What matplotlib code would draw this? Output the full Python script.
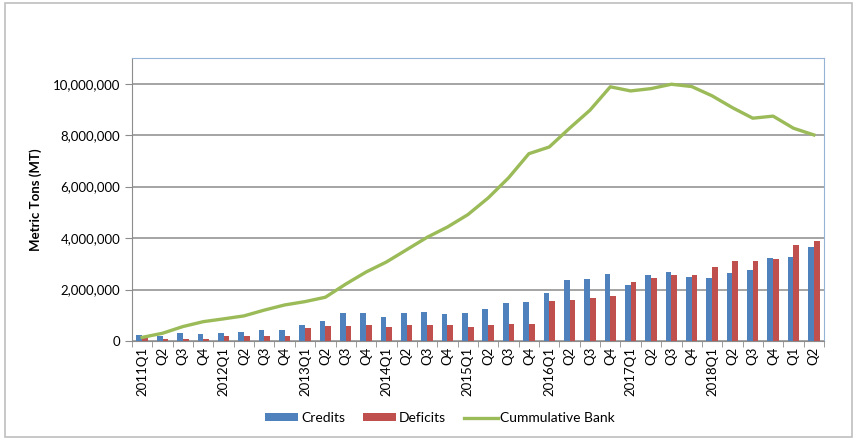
import matplotlib.pyplot as plt
from matplotlib.patches import Rectangle
from matplotlib.ticker import FuncFormatter
import numpy as np

plt.rcParams['font.family'] = ['Lato', 'DejaVu Sans']

# quarter labels, 2011Q1 .. 2019Q2 (2019 year prefix is cut off in the original)
quarters = ["2011Q1", "Q2", "Q3", "Q4",
            "2012Q1", "Q2", "Q3", "Q4",
            "2013Q1", "Q2", "Q3", "Q4",
            "2014Q1", "Q2", "Q3", "Q4",
            "2015Q1", "Q2", "Q3", "Q4",
            "2016Q1", "Q2", "Q3", "Q4",
            "2017Q1", "Q2", "Q3", "Q4",
            "2018Q1", "Q2", "Q3", "Q4",
            "Q1", "Q2"]

credits = [240000, 200000, 325000, 290000, 325000, 350000, 430000, 440000,
           640000, 790000, 1090000, 1090000, 920000, 1070000, 1120000, 1040000,
           1070000, 1250000, 1470000, 1530000, 1850000, 2380000, 2400000, 2600000,
           2160000, 2550000, 2700000, 2480000, 2440000, 2640000, 2740000, 3240000,
           3260000, 3640000]

deficits = [100000, 90000, 90000, 90000, 180000, 210000, 210000, 210000,
            510000, 600000, 600000, 620000, 530000, 620000, 620000, 620000,
            560000, 620000, 650000, 650000, 1570000, 1610000, 1690000, 1740000,
            2310000, 2460000, 2550000, 2570000, 2860000, 3120000, 3120000, 3170000,
            3720000, 3870000]

bank = [140000, 300000, 560000, 750000, 860000, 975000, 1200000, 1400000,
        1530000, 1700000, 2210000, 2680000, 3070000, 3550000, 4030000, 4430000,
        4910000, 5560000, 6340000, 7280000, 7540000, 8270000, 8970000, 9880000,
        9720000, 9810000, 9980000, 9890000, 9530000, 9070000, 8660000, 8740000,
        8270000, 8010000]

blue = "#4F81BD"
red = "#C0504D"
green = "#9BBB59"

fig = plt.figure(figsize=(8.57, 4.41), dpi=100)
fig.patches.append(Rectangle((0.006, 0.008), 0.988, 0.985, transform=fig.transFigure,
                             fill=False, edgecolor="#BFBFBF", linewidth=1.2))
ax = fig.add_axes([0.154, 0.2268, 0.8075, 0.6417])

x = np.arange(len(quarters))
w = 0.28
b1 = ax.bar(x - w / 2, credits, width=w, color=blue, label="Credits", zorder=2)
b2 = ax.bar(x + w / 2, deficits, width=w, color=red, label="Deficits", zorder=2)
ln, = ax.plot(x, bank, color=green, linewidth=2.4, label="Cummulative Bank", zorder=3)

ax.set_xlim(-0.5, len(quarters) - 0.5)
ax.set_ylim(0, 11000000)
ax.set_yticks(range(0, 10000001, 2000000))
ax.yaxis.set_major_formatter(FuncFormatter(lambda v, p: f"{int(v):,}"))
ax.yaxis.grid(True, color="#8C8C8C", linewidth=1.1, zorder=0)
ax.set_axisbelow(True)

ax.set_xticks(x)
ax.set_xticklabels(quarters, rotation=90, fontsize=9.5)
ax.set_xticks(np.arange(-0.5, len(quarters)), minor=True)
ax.tick_params(axis="x", which="major", length=0, pad=4)
ax.tick_params(axis="x", which="minor", length=4, color="#8C8C8C", direction="out")
ax.tick_params(axis="y", length=5, color="#8C8C8C", labelsize=9.5)

ax.set_ylabel("Metric Tons (MT)", fontsize=9.5, fontweight="bold", labelpad=8)

for side in ["top", "right"]:
    ax.spines[side].set_color("#95B3D7")
for side in ["left", "bottom"]:
    ax.spines[side].set_color("#8C8C8C")

ax.legend(handles=[b1, b2, ln], loc="center", bbox_to_anchor=(0.445, -0.272), ncol=3,
          frameon=False, fontsize=10, handlelength=2.4, handleheight=0.5,
          columnspacing=1.3, handletextpad=0.2)

plt.savefig("out.png", dpi=100)
